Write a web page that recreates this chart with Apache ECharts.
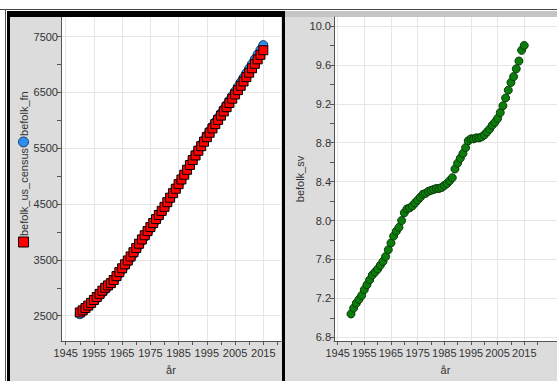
<!DOCTYPE html>
<html><head><meta charset="utf-8">
<script src="https://cdn.jsdelivr.net/npm/echarts@6/dist/echarts.min.js"></script>
<style>html,body{margin:0;padding:0;background:#fff;overflow:hidden}#c{width:557px;height:381px}</style>
</head><body><div id="c"></div>
<script>
const years = [1950,1951,1952,1953,1954,1955,1956,1957,1958,1959,1960,1961,1962,1963,1964,1965,1966,1967,1968,1969,
  1970,1971,1972,1973,1974,1975,1976,1977,1978,1979,1980,1981,1982,1983,1984,1985,1986,1987,1988,1989,
  1990,1991,1992,1993,1994,1995,1996,1997,1998,1999,2000,2001,2002,2003,2004,2005,2006,2007,2008,2009,
  2010,2011,2012,2013,2014,2015];
const befolkFn = [2526,2573,2619,2666,2713,2761,2810,2861,2912,2966,3018,3069,3124,3187,3253,3322,3391,3459,3530,3604,
  3682,3761,3838,3915,3990,4061,4134,4206,4279,4357,4440,4520,4604,4688,4772,4853,4938,5025,5114,5204,
  5310,5396,5480,5564,5648,5735,5814,5894,5973,6050,6127,6204,6282,6360,6439,6520,6601,6683,6766,6848,
  6930,7012,7097,7182,7266,7349];
const befolkUsCensus = [2558,2595,2637,2682,2730,2782,2835,2891,2948,3001,3043,3083,3140,3210,3281,3350,3421,3490,3562,3637,
  3713,3790,3867,3942,4017,4089,4160,4232,4305,4379,4451,4534,4615,4696,4775,4857,4941,5027,5115,5201,
  5289,5372,5456,5537,5618,5699,5778,5856,5933,6009,6086,6161,6237,6312,6389,6465,6542,6620,6698,6776,
  6855,6934,7014,7094,7175,7257];
const befolkSv = [7.04,7.10,7.15,7.19,7.23,7.29,7.34,7.39,7.44,7.47,7.50,7.54,7.58,7.63,7.70,7.77,7.84,7.89,7.93,8.00,
  8.08,8.12,8.13,8.15,8.18,8.21,8.24,8.27,8.28,8.30,8.31,8.32,8.33,8.33,8.34,8.36,8.38,8.41,8.44,8.53,
  8.59,8.64,8.69,8.75,8.82,8.84,8.84,8.85,8.85,8.86,8.88,8.91,8.94,8.98,9.01,9.05,9.11,9.18,9.26,9.34,
  9.42,9.48,9.56,9.64,9.75,9.80];
const xMajorTicks = [1945,1955,1965,1975,1985,1995,2005,2015];
const xMinorTicks = [1950,1960,1970,1980,1990,2000,2010,2020];
const yLeftMajorTicks = [2500,3500,4500,5500,6500,7500];
const yLeftMinorTicks = [3000,4000,5000,6000,7000];
const yRightMajorTicks = [6.8,7.2,7.6,8.0,8.4,8.8,9.2,9.6,10.0];
const yRightMinorTicks = [7.0,7.4,7.8,8.2,8.6,9.0,9.4,9.8];
const xTitle = 'år';
const yRightTitle = 'befolk_sv';
const nameFn = 'befolk_fn';
const nameCensus = 'befolk_us_census';

const FONT = '"Liberation Sans", Arial, sans-serif';
const FONT_CSS = '11px "Liberation Sans", Arial, sans-serif';
const TXT = '#333';
const AXIS = '#555';
const GRIDC = '#e6e6e6';
const RED = '#ff0000', BLUE = '#2e8ef0', BLUE_B = '#1a3a6a';

const measure = (() => { const ctx = document.createElement('canvas').getContext('2d'); ctx.font = FONT_CSS; return s => ctx.measureText(s).width; })();

function mainX(gridIndex, min, max) {
  return {
    type: 'value', gridIndex, min, max, position: 'bottom',
    name: xTitle, nameLocation: 'middle', nameGap: 23,
    nameTextStyle: {fontFamily: FONT, fontSize: 11, color: TXT},
    axisLine: {show: true, onZero: false, lineStyle: {color: AXIS, width: 1}},
    axisTick: {show: true, length: 4, customValues: xMajorTicks, lineStyle: {color: AXIS}},
    axisLabel: {show: true, customValues: xMajorTicks, margin: 6, fontFamily: FONT, fontSize: 11, color: TXT,
      formatter: v => String(Math.round(v)), hideOverlap: false, interval: 0, showMinLabel: true, showMaxLabel: true},
    splitLine: {show: true, lineStyle: {color: GRIDC, width: 1}}
  };
}
function minorX(gridIndex, min, max) {
  return {
    type: 'value', gridIndex, min, max, position: 'bottom',
    axisLine: {show: false},
    axisTick: {show: true, length: 4, customValues: xMinorTicks, lineStyle: {color: AXIS}},
    axisLabel: {show: false},
    splitLine: {show: false}
  };
}
function mainY(gridIndex, min, max, ticks, fmt, extra) {
  return Object.assign({
    type: 'value', gridIndex, min, max, position: 'left',
    axisLine: {show: true, onZero: false, lineStyle: {color: AXIS, width: 1}},
    axisTick: {show: true, length: 4, customValues: ticks, lineStyle: {color: AXIS}},
    axisLabel: {show: true, customValues: ticks, margin: 3, fontFamily: FONT, fontSize: 11, color: TXT, formatter: fmt,
      hideOverlap: false, interval: 0, showMinLabel: true, showMaxLabel: true},
    splitLine: {show: true, lineStyle: {color: GRIDC, width: 1}}
  }, extra);
}
function minorY(gridIndex, min, max, ticks) {
  return {
    type: 'value', gridIndex, min, max, position: 'left',
    axisLine: {show: false},
    axisTick: {show: true, length: 4, customValues: ticks, lineStyle: {color: AXIS}},
    axisLabel: {show: false},
    splitLine: {show: false}
  };
}

// rotated legend-style title of the left y axis
const wCensus = measure(nameCensus), wFn = measure(nameFn);
const legendChildren = [];
let pos = 0;
legendChildren.push({type: 'rect', shape: {x: pos, y: -5, width: 10, height: 10}, style: {fill: RED, stroke: '#000', lineWidth: 1}});
pos += 11;
legendChildren.push({type: 'text', x: pos, y: 0, style: {text: nameCensus, font: FONT_CSS, fill: TXT, verticalAlign: 'middle', align: 'left'}});
pos += wCensus + 1;
legendChildren.push({type: 'circle', shape: {cx: pos + 5, cy: 0, r: 5}, style: {fill: BLUE, stroke: BLUE_B, lineWidth: 1}});
pos += 11;
legendChildren.push({type: 'text', x: pos, y: 0, style: {text: nameFn, font: FONT_CSS, fill: TXT, verticalAlign: 'middle', align: 'left'}});

const chart = echarts.init(document.getElementById('c'), null, {renderer: 'svg', width: 557, height: 381});
const option = {
  animation: false,
  backgroundColor: '#ffffff',
  grid: [
    {left: 61, top: 17, width: 220, height: 324, show: true, backgroundColor: '#ffffff', borderWidth: 0, containLabel: false},
    {left: 334, top: 17, width: 245, height: 324, show: true, backgroundColor: '#ffffff', borderWidth: 0, containLabel: false}
  ],
  xAxis: [
    mainX(0, 1943.34, 2021.27),
    minorX(0, 1943.34, 2021.27),
    mainX(1, 1943.63, 2027.28),
    minorX(1, 1943.63, 2027.28)
  ],
  yAxis: [
    mainY(0, 2046.6, 7853, yLeftMajorTicks, v => String(Math.round(v))),
    minorY(0, 2046.6, 7853, yLeftMinorTicks),
    mainY(1, 6.762, 10.0925, yRightMajorTicks, v => v.toFixed(1), {
      name: yRightTitle, nameLocation: 'middle', nameGap: 28, nameRotate: 90,
      nameTextStyle: {fontFamily: FONT, fontSize: 11, color: TXT}
    }),
    minorY(1, 6.762, 10.0925, yRightMinorTicks)
  ],
  graphic: [
    {type: 'rect', z: -20, silent: true, shape: {x: 0, y: 0, width: 557, height: 381}, style: {fill: '#ffffff'}},
    {type: 'rect', z: -19, silent: true, shape: {x: 8, y: 11, width: 276, height: 370}, style: {fill: '#dcdcdc'}},
    {type: 'rect', z: -19, silent: true, shape: {x: 285, y: 11, width: 272, height: 370}, style: {fill: '#dcdcdc'}},
    {type: 'rect', z: -18, silent: true, shape: {x: 285, y: 11, width: 272, height: 6}, style: {fill: '#c4c4c4'}},
    {type: 'line', z: 10, silent: true, shape: {x1: 0, y1: 9.5, x2: 557, y2: 9.5}, style: {stroke: '#444', lineWidth: 1}},
    {type: 'line', z: 10, silent: true, shape: {x1: 5.5, y1: 9.5, x2: 5.5, y2: 381}, style: {stroke: '#555', lineWidth: 1}},
    {type: 'rect', z: 10, silent: true, shape: {x: 7, y: 11, width: 278, height: 6}, style: {fill: '#000'}},
    {type: 'rect', z: 10, silent: true, shape: {x: 7, y: 11, width: 3, height: 370}, style: {fill: '#000'}},
    {type: 'rect', z: 10, silent: true, shape: {x: 282, y: 11, width: 3, height: 370}, style: {fill: '#000'}},
    {type: 'group', z: 10, silent: true, x: 23.5, y: 247, rotation: Math.PI / 2, children: legendChildren}
  ],
  series: [
    {type: 'scatter', name: nameFn, xAxisIndex: 0, yAxisIndex: 0, symbol: 'circle', symbolSize: 9,
      itemStyle: {color: BLUE, borderColor: BLUE_B, borderWidth: 1, opacity: 1},
      data: years.map((y, i) => [y, befolkFn[i]])},
    {type: 'scatter', name: nameCensus, xAxisIndex: 0, yAxisIndex: 0, symbol: 'rect', symbolSize: 9,
      itemStyle: {color: RED, borderColor: '#000', borderWidth: 1, opacity: 1},
      data: years.map((y, i) => [y, befolkUsCensus[i]])},
    {type: 'scatter', name: yRightTitle, xAxisIndex: 2, yAxisIndex: 2, symbol: 'circle', symbolSize: 8,
      itemStyle: {color: '#0b7d0b', borderColor: '#0a3a0a', borderWidth: 1, opacity: 1},
      data: years.map((y, i) => [y, befolkSv[i]])}
  ]
};
chart.setOption(option);
</script>
</body></html>
